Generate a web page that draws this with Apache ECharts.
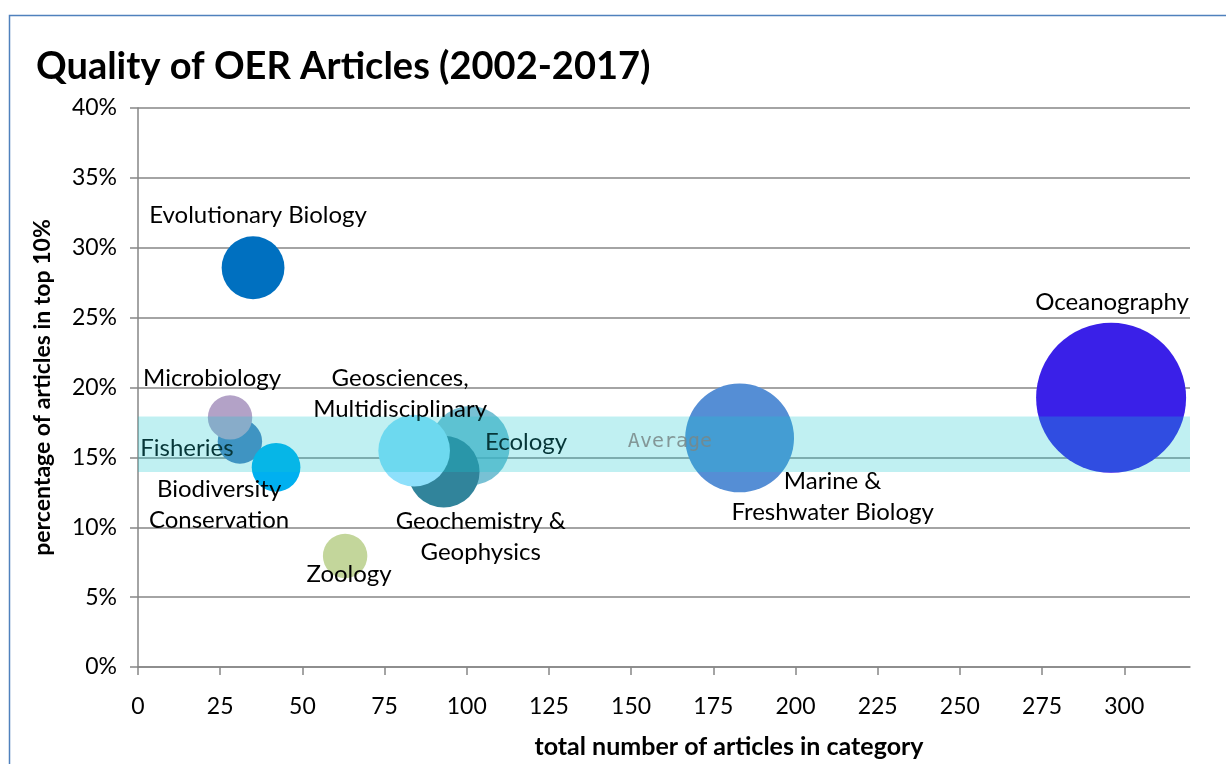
<!DOCTYPE html>
<html>
<head>
<meta charset="utf-8">
<script src="https://cdn.jsdelivr.net/npm/echarts@6/dist/echarts.min.js"></script>
<style>
  html, body { margin: 0; padding: 0; background: #fff; overflow: hidden; }
  #chart { position: absolute; left: 0; top: 0; width: 1226px; height: 764px; }
</style>
</head>
<body>
<div id="chart"></div>
<script>
// ---- data (drawing order: first drawn at the bottom) ----
const categories = [
  'Oceanography',
  'Marine &\nFreshwater Biology',
  'Ecology',
  'Geochemistry &\nGeophysics',
  'Geosciences,\nMultidisciplinary',
  'Zoology',
  'Fisheries',
  'Microbiology',
  'Biodiversity\nConservation',
  'Evolutionary Biology'
];
const totalArticles = [296, 183, 101, 93, 84, 63, 31, 28, 42, 35];
const pctTop10     = [19.26, 16.39, 15.84, 13.98, 15.48, 7.94, 16.13, 17.86, 14.29, 28.57];
const top10Counts  = [57, 30, 16, 13, 13, 5, 5, 5, 6, 10];
const averageBand  = [13.95, 17.92];
const xTicks = [0, 25, 50, 75, 100, 125, 150, 175, 200, 225, 250, 275, 300];

// ---- styles ----
const colors = ['#3A20E8', '#558ED5', 'rgba(75,172,198,0.75)', '#31849B', '#8EE0FB',
                '#C3D69B', '#4F81BD', '#B3A2C7', '#00B0F0', '#0070C0'];
const labelOffsets = [[1, -96], [93, 59], [56, -3], [37, 65], [-14, -57],
                      [4, 18], [-53, 7], [-18, -39], [-57, 37], [5, -52]];
const bubbleScale = 150 / Math.sqrt(57);
const FONT = 'Lato, "Open Sans", sans-serif';

const points = categories.map((name, i) => ({
  name: name,
  value: [totalArticles[i], pctTop10[i], top10Counts[i]],
  itemStyle: { color: colors[i], opacity: 1 }
}));

const chart = echarts.init(document.getElementById('chart'), null, { renderer: 'canvas' });
chart.setOption({
  animation: false,
  backgroundColor: '#fff',
  graphic: [{
    type: 'polyline', silent: true, z: 100,
    shape: { points: [[9.5, 764], [9.5, 15.5], [1226, 15.5]] },
    style: { stroke: '#4F81BD', lineWidth: 1.5, fill: null }
  }],
  title: {
    text: 'Quality of OER Articles (2002-2017)',
    left: 36, top: 48, padding: 0,
    textStyle: { fontFamily: FONT, fontWeight: 'bold', fontSize: 38, color: '#000' }
  },
  grid: { left: 138, right: 36, top: 108, bottom: 88, containLabel: false },
  xAxis: {
    type: 'value', min: 0, max: 320, interval: 25,
    name: 'total number of articles in category',
    nameLocation: 'middle', nameGap: 67,
    nameTextStyle: { fontFamily: FONT, fontWeight: 'bold', fontSize: 25, color: '#000', padding: [0, 0, 0, 130] },
    axisLine: { show: true, lineStyle: { color: '#868686', width: 1.5 } },
    axisTick: { show: true, length: 8, customValues: xTicks, lineStyle: { color: '#868686', width: 1.5 } },
    axisLabel: { customValues: xTicks, margin: 28, fontFamily: FONT, fontSize: 23, color: '#000' },
    splitLine: { show: false }
  },
  yAxis: {
    type: 'value', min: 0, max: 40, interval: 5,
    name: 'percentage of articles in top 10%',
    nameLocation: 'middle', nameGap: 84,
    nameTextStyle: { fontFamily: FONT, fontWeight: 'bold', fontSize: 23, color: '#000' },
    axisLine: { show: true, lineStyle: { color: '#868686', width: 1.5 } },
    axisTick: { show: true, length: 8, lineStyle: { color: '#868686', width: 1.5 } },
    axisLabel: { formatter: '{value}%', margin: 21, fontFamily: FONT, fontSize: 23, color: '#000' },
    splitLine: { show: true, lineStyle: { color: '#868686', width: 1.5 } }
  },
  series: [
    {
      type: 'scatter',
      z: 2,
      data: points,
      symbol: 'circle',
      symbolSize: v => bubbleScale * Math.sqrt(v[2]),
      itemStyle: { opacity: 1 },
      label: {
        show: true, position: 'inside',
        formatter: p => p.name,
        fontFamily: FONT, fontSize: 24, color: '#000', lineHeight: 31, align: 'center'
      },
      labelLayout: p => ({ dx: labelOffsets[p.dataIndex][0], dy: labelOffsets[p.dataIndex][1], hideOverlap: false }),
      emphasis: { disabled: true }
    },
    {
      type: 'scatter',
      z: 10,
      data: [],
      markArea: {
        z: 10,
        silent: true,
        itemStyle: { color: 'rgba(22,200,208,0.27)' },
        label: {
          show: true, position: 'inside', offset: [6, -3],
          fontFamily: '"DejaVu Sans Mono", monospace', fontSize: 20, color: 'rgba(120,135,135,0.85)'
        },
        data: [[{ name: 'Average', coord: [0, averageBand[0]] }, { coord: [320, averageBand[1]] }]]
      }
    }
  ]
});
</script>
</body>
</html>
